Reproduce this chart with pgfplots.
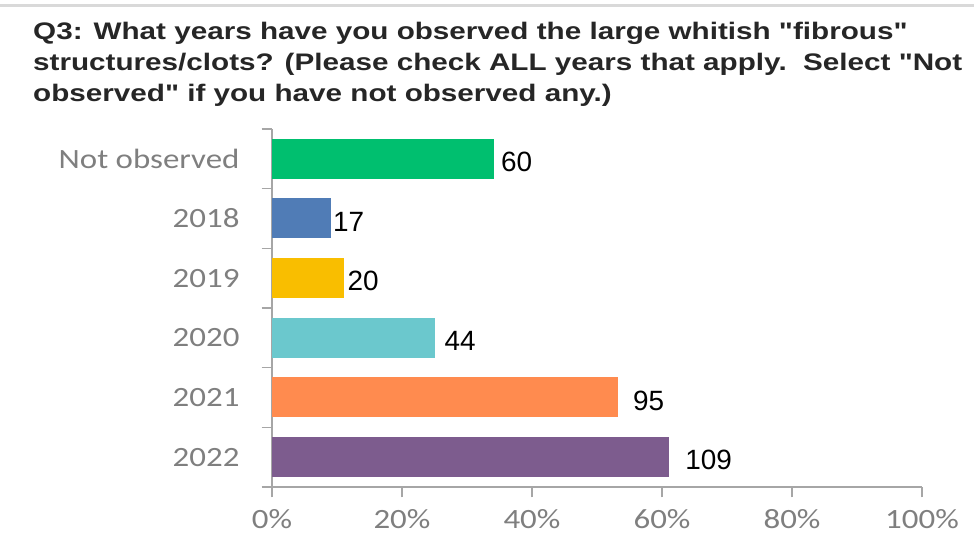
\documentclass[border=0pt]{standalone}
\usepackage{fontspec}
\usepackage{pgfplots}
\pgfplotsset{compat=1.18}
\setmainfont{Liberation Sans}
\newfontfamily\calib{Carlito}[FakeStretch=1.18]
\newfontfamily\ttlfont{Liberation Sans}[Ligatures=TeXOff, FakeStretch=1.24]
\definecolor{cNot}{HTML}{00BF6F}
\definecolor{c18}{HTML}{507CB6}
\definecolor{c19}{HTML}{F9BE00}
\definecolor{c20}{HTML}{6BC8CD}
\definecolor{c21}{HTML}{FF8B4F}
\definecolor{c22}{HTML}{7D5C8E}
\definecolor{axgray}{HTML}{A6A6A6}
\definecolor{lblgray}{HTML}{7F7F7F}
\definecolor{ttl}{HTML}{262626}
\begin{document}
\begin{tikzpicture}[x=1bp,y=1bp]
\path[use as bounding box] (0,0) rectangle (974,539);
\fill[black!15] (0,539-7.3) rectangle (974,539-4);
\node[anchor=base west, inner sep=0pt, align=left, text=ttl,
      font=\ttlfont\fontsize{24}{31.5}\selectfont\bfseries] at (33,539-102)
  {Q3: What years have you observed the large whitish "fibrous"\\
   structures/clots? (Please check ALL years that apply.\ \ Select "Not\\
   observed" if you have not observed any.)};
\begin{axis}[
  at={(272bp,52bp)}, anchor=south west,
  scale only axis, width=650bp, height=358bp,
  xmin=0, xmax=100, ymin=-0.5, ymax=5.5,
  axis lines*=left,
  axis line style={draw=axgray, line width=1.3bp},
  tick align=outside,
  major tick length=10.5bp,
  tick style={draw=axgray, line width=1.3bp},
  xtick={0,20,40,60,80,100},
  xticklabels={0\%,20\%,40\%,60\%,80\%,100\%},
  xticklabel style={font=\calib\fontsize{28}{28}\selectfont, text=lblgray, yshift=-8bp},
  ytick={-0.5,0.5,1.5,2.5,3.5,4.5,5.5},
  yticklabels={},
  extra y ticks={0,1,2,3,4,5},
  extra y tick labels={2022,2021,2020,2019,2018,Not observed},
  extra y tick style={major tick length=0pt, yticklabel style={font=\calib\fontsize{28}{28}\selectfont, text=lblgray, xshift=-29bp}},
  xbar, bar width=40bp, bar shift=0pt,
  point meta=explicit symbolic,
  nodes near coords,
  nodes near coords align={horizontal},
  every node near coord/.append style={font=\fontsize{28}{28}\selectfont, text=black, anchor=west, inner sep=0pt, yshift=-3bp},
  clip=false,
]
\addplot[draw=none, fill=cNot, every node near coord/.append style={xshift=7bp}] coordinates {(34.15,5)[60]};
\addplot[draw=none, fill=c18, every node near coord/.append style={xshift=2bp}] coordinates {(9.08,4)[17]};
\addplot[draw=none, fill=c19, every node near coord/.append style={xshift=4bp}] coordinates {(11.0,3)[20]};
\addplot[draw=none, fill=c20, every node near coord/.append style={xshift=10bp}] coordinates {(25.0,2)[44]};
\addplot[draw=none, fill=c21, every node near coord/.append style={xshift=15bp}] coordinates {(53.2,1)[95]};
\addplot[draw=none, fill=c22, every node near coord/.append style={xshift=16bp}] coordinates {(61.1,0)[109]};
\end{axis}
\end{tikzpicture}
\end{document}
